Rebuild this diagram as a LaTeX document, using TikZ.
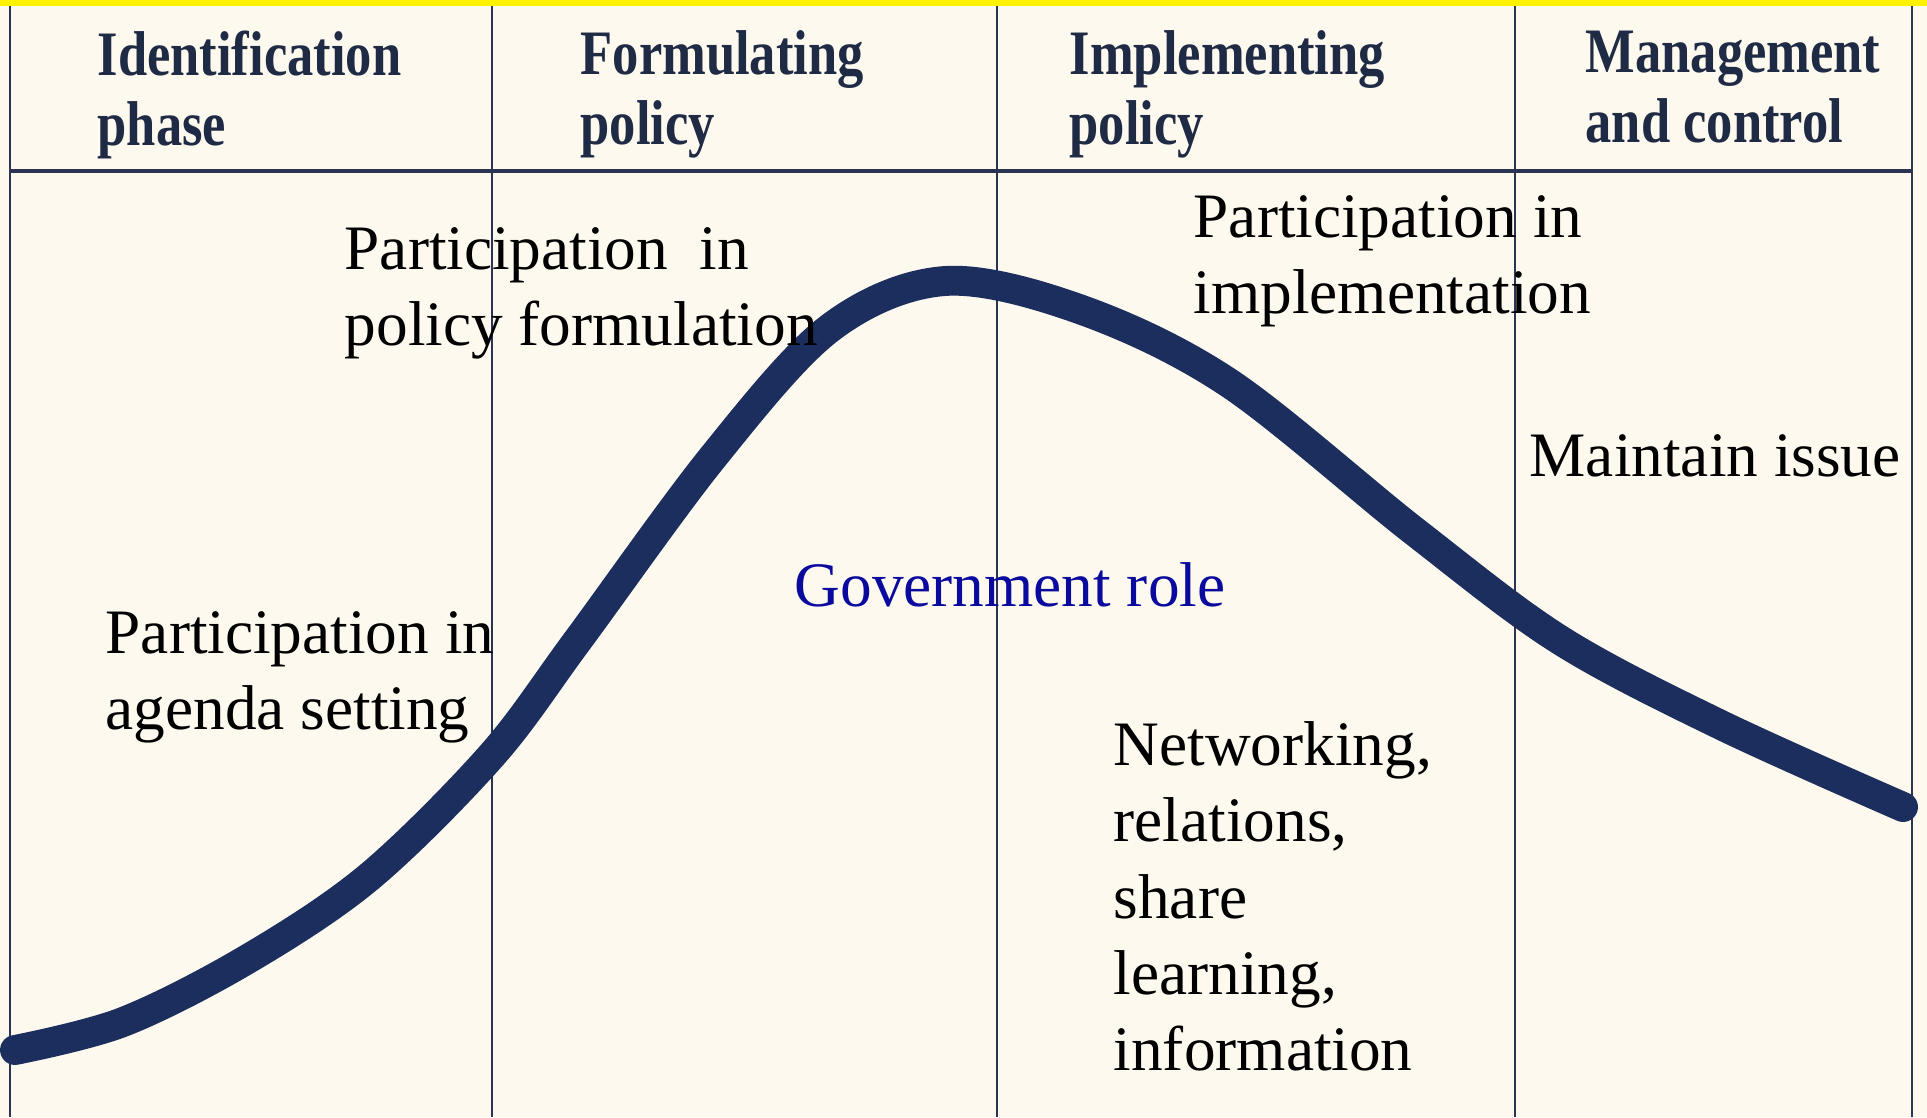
\documentclass[tikz,border=0pt]{standalone}
\usepackage{fontspec}
\setmainfont{Liberation Serif}
\newfontfamily\headfont[FakeStretch=0.83]{Liberation Serif}

\definecolor{paper}{HTML}{FDF9EE}
\definecolor{rulecol}{HTML}{2B3450}
\definecolor{curvecol}{HTML}{1C2E5E}
\definecolor{headink}{HTML}{1F2A45}
\definecolor{roleblue}{HTML}{0A0A9E}

\tikzset{
  phase/.style={anchor=north west, inner sep=0pt, align=left, text=headink,
    font=\headfont\bfseries\fontsize{18}{19.9}\selectfont},
  note/.style={anchor=north west, inner sep=0pt, align=left,
    font=\fontsize{18}{21.7}\selectfont},
  grid/.style={rulecol, line width=0.8pt},
}

\begin{document}
\begin{tikzpicture}[x=0.01cm, y=-0.01cm]
  \fill[paper] (0,0) rectangle (1927,1117);
  \useasboundingbox (0,0) rectangle (1927,1117);
  \fill[yellow] (0,0) rectangle (1927,6);
  \foreach \xx in {10,492,997,1515,1912}
    \draw[grid] (\xx,6) -- (\xx,1117);
  \draw[grid, line width=1.1pt] (10,171) -- (1912,171);

  \node[phase] (ident) at (97,30) {Identification\\phase};
  \node[phase] (formul) at (580,30) {Formulating\\policy};
  \node[phase] (implem) at (1069,30) {Implementing\\policy};
  \node[phase] (manage) at (1585,30) {Management\\and control};

  \draw[curvecol, line width=8.5pt, line cap=round]
    plot[smooth, tension=0.55] coordinates {(15,1050) (123,1022) (246,960) (369,877)
      (492,755) (578,640) (713,457) (830,328) (945,281) (1082,310) (1229,383)
      (1414,531) (1560,640) (1721,725) (1903,807)};

  \node[note] (agenda) at (105,611) {Participation in\\agenda setting};
  \node[note] (polform) at (344,227) {Participation\ \ in\\policy formulation};
  \node[note] (impl) at (1193,195) {Participation in\\implementation};
  \node[note] (maint) at (1529,434) {Maintain issue};
  \node[note, text=roleblue] (govrole) at (794,562) {Government role};
  \node[note] (network) at (1113,721) {Networking,\\relations,\\share\\learning,\\information};
\end{tikzpicture}
\end{document}
